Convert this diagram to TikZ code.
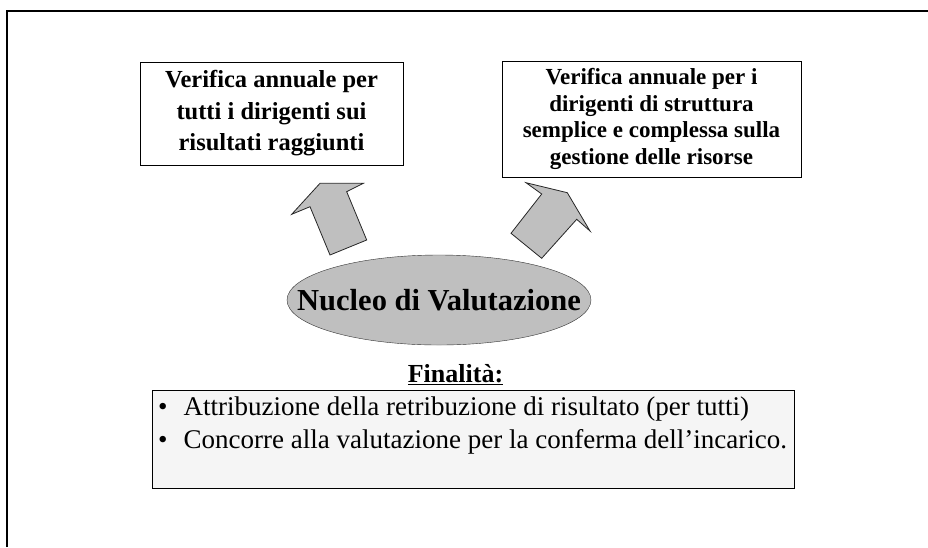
\documentclass[tikz,border=0pt]{standalone}
\usepackage{fontspec}
\setmainfont{Liberation Serif}

\begin{document}
\begin{tikzpicture}[x=1pt, y=-1pt, line join=miter,
  vbox/.style={draw, thick, fill=white, align=center, inner sep=0pt, font=\bfseries},
  nucleo/.style={inner sep=0pt, font=\fontsize{30.5}{34}\selectfont\bfseries},
  blockarrow/.style={draw=black!85, fill=gray!50, line width=0.8pt}]
\useasboundingbox (0,0) rectangle (928,547);
\draw[line width=1.6pt] (7,547) -- (7,11) -- (928,11);
\node[vbox, minimum width=263pt, minimum height=103pt,
  font=\fontsize{24.5}{31.5}\selectfont\bfseries] (verTutti) at (271.5,113.5)
  {Verifica annuale per\\tutti i dirigenti sui\\risultati raggiunti};
\node[vbox, minimum width=299pt, minimum height=116pt,
  font=\fontsize{23}{26.5}\selectfont\bfseries] (verStrutt) at (651.5,119)
  {Verifica annuale per i\\dirigenti di struttura\\semplice e complessa sulla\\gestione delle risorse};
\coordinate (nucC) at (439,300);
\draw[draw=black!80, fill=gray!50] (nucC) ellipse [x radius=152, y radius=45];
\node[nucleo] (nucleo) at (nucC) {Nucleo di Valutazione};
% frecce verso i due riquadri
\draw[blockarrow] (320,183.3) -- (363.3,183.3) -- (346.7,191.7) -- (366.7,240)
  -- (330,255) -- (310,206.7) -- (291.7,214.3) -- cycle;
\draw[blockarrow] (567.3,192.7) -- (590,231) -- (576.7,219.3) -- (541.7,258.3)
  -- (511,233.3) -- (541.7,194) -- (526,182.7) -- cycle;
\node[font=\fontsize{26}{30}\selectfont\bfseries] (finTit) at (455.5,375)
  {\underline{Finalità:}};
\node[draw, fill=gray!8, minimum width=642pt, minimum height=98pt, inner sep=0pt]
  (finBox) at (473,439) {};
\node[anchor=west, align=left, inner sep=0pt,
  font=\fontsize{27}{33}\selectfont] (finList) at (158,425)
  {\textbullet\hspace{16pt}Attribuzione della retribuzione di risultato (per tutti)\\
   \textbullet\hspace{16pt}Concorre alla valutazione per la conferma dell’incarico.};
\end{tikzpicture}
\end{document}
